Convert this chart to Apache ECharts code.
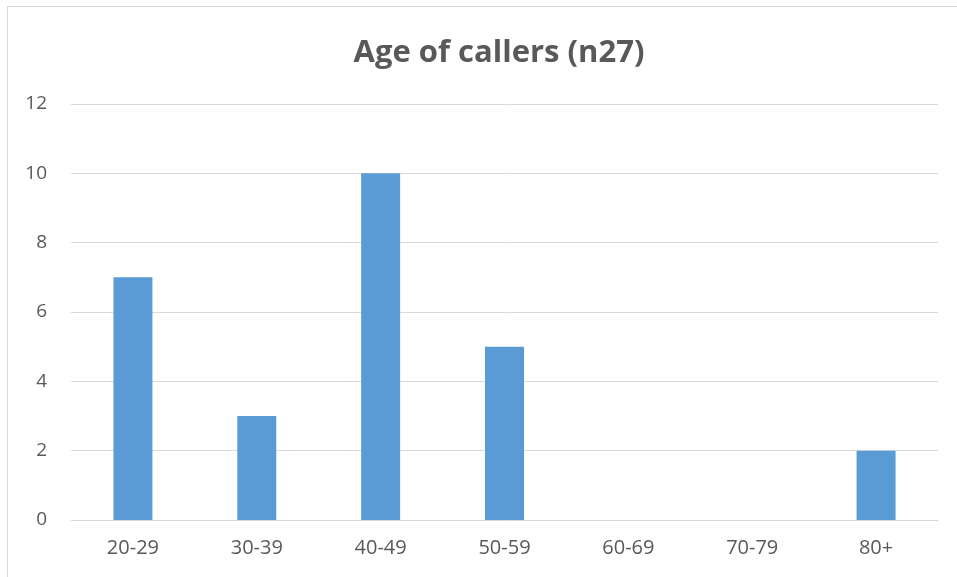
<!DOCTYPE html>
<html>
<head>
<meta charset="utf-8">
<script src="https://cdn.jsdelivr.net/npm/echarts@6/dist/echarts.min.js"></script>
<style>
  html, body { margin: 0; padding: 0; background: #fff; }
  .frame {
    position: absolute; left: 7px; top: 6px; width: 1000px; height: 700px;
    border: 1px solid #d9d9d9; box-sizing: border-box;
  }
  #chart { position: absolute; left: 0; top: 0; width: 957px; height: 577px; }
</style>
</head>
<body>
<div class="frame"></div>
<div id="chart"></div>
<script>
const categories = ['20-29', '30-39', '40-49', '50-59', '60-69', '70-79', '80+']
const callers = [7, 3, 10, 5, 0, 0, 2]

const chart = echarts.init(document.getElementById('chart'))
chart.setOption({
  animation: false,
  title: {
    text: 'Age of callers (n27)',
    left: 494,
    top: 33,
    textAlign: 'center',
    textStyle: {
      fontFamily: 'Open Sans',
      fontWeight: 'bold',
      fontSize: 31,
      color: '#595959'
    }
  },
  grid: { left: 71, right: 19, top: 104, bottom: 57 },
  xAxis: {
    type: 'category',
    data: categories,
    axisLine: { lineStyle: { color: '#d9d9d9', width: 1 } },
    axisTick: { show: false },
    axisLabel: { color: '#595959', fontSize: 20, fontFamily: 'Open Sans', margin: 18 }
  },
  yAxis: {
    type: 'value',
    min: 0,
    max: 12,
    interval: 2,
    axisLine: { show: false },
    axisTick: { show: false },
    splitLine: { lineStyle: { color: '#d9d9d9', width: 1 } },
    axisLabel: { color: '#595959', fontSize: 19, fontFamily: 'Open Sans', margin: 24 }
  },
  series: [{
    type: 'bar',
    data: callers,
    barWidth: 39,
    itemStyle: { color: '#5b9bd5' }
  }]
})
</script>
</body>
</html>
